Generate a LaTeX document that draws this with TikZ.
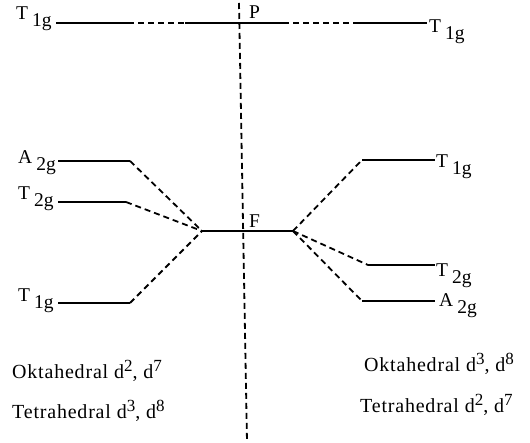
\documentclass[tikz,border=0pt]{standalone}
\usepackage{fontspec}
\setmainfont{Liberation Serif}
\newfontfamily\spacedfont[LetterSpace=4]{Liberation Serif}
\newcommand\lvlname[2]{#1\kern4pt\raisebox{-7pt}{#2}}
\newcommand\supnum[1]{\raisebox{7pt}{\fontsize{17}{17}\selectfont #1}}
\begin{document}
\begin{tikzpicture}[x=1pt,y=-1pt,
  level/.style={line width=2pt},
  conn/.style={line width=1.8pt, dash pattern=on 6pt off 4pt},
  lab/.style={font=\fontsize{19.5}{21}\selectfont, inner sep=0pt, anchor=base west},
  bottomtext/.style={font=\spacedfont\fontsize{20}{22}\selectfont, inner sep=0pt, anchor=base west}]
\useasboundingbox (0,0) rectangle (530,443);
% top P level
\coordinate (tl1) at (56,23);
\coordinate (tl2) at (128,23);
\coordinate (tl3) at (185,23);
\coordinate (tr1) at (283,23);
\coordinate (tr2) at (353,23);
\coordinate (tr3) at (427,23);
\draw[level] (tl1) -- (tl2);
\draw[conn] (tl2) -- (tl3);
\draw[level] (tl3) -- (tr1);
\draw[conn] (tr1) -- (tr2);
\draw[level] (tr2) -- (tr3);
% vertical divider
\coordinate (vtop) at (239,3);
\coordinate (vbot) at (247,442);
\draw[conn] (vtop) -- (vbot);
% F level
\coordinate (fl) at (202,231);
\coordinate (fr) at (293,231);
\draw[level] (fl) -- (fr);
% left levels
\coordinate (la1) at (58,161); \coordinate (la2) at (130,161);
\coordinate (lt21) at (58,202); \coordinate (lt22) at (126,202);
\coordinate (lt11) at (58,303); \coordinate (lt12) at (130,303);
\draw[level] (la1) -- (la2);
\draw[level] (lt21) -- (lt22);
\draw[level] (lt11) -- (lt12);
\draw[conn] (la2) -- (fl);
\draw[conn] (lt22) -- (fl);
\draw[conn] (lt12) -- (fl);
% right levels
\coordinate (rt11) at (362,160); \coordinate (rt12) at (435,160);
\coordinate (rt21) at (368,265); \coordinate (rt22) at (435,265);
\coordinate (ra1) at (362,301); \coordinate (ra2) at (435,301);
\draw[level] (rt11) -- (rt12);
\draw[level] (rt21) -- (rt22);
\draw[level] (ra1) -- (ra2);
\draw[conn] (fr) -- (rt11);
\draw[conn] (fr) -- (rt21);
\draw[conn] (fr) -- (ra1);
% labels
\node[lab] (ltop) at (16,20) {\lvlname{T}{1g}};
\node[lab] (rtop) at (429,33) {\lvlname{T}{1g}};
\node[lab] (lA) at (18,164) {\lvlname{A}{2g}};
\node[lab] (lT2) at (18,200) {\lvlname{T}{2g}};
\node[lab] (lT1) at (18,302) {\lvlname{T}{1g}};
\node[lab] (rT1) at (436,168) {\lvlname{T}{1g}};
\node[lab] (rT2) at (436,277) {\lvlname{T}{2g}};
\node[lab] (rA) at (439,307) {\lvlname{A}{2g}};
\node[lab] (P) at (249,19) {P};
\node[lab] (F) at (249,228) {F};
% bottom text
\node[bottomtext] (lo) at (12,378) {Oktahedral d\supnum{2}, d\supnum{7}};
\node[bottomtext] (lt) at (12,418) {Tetrahedral d\supnum{3}, d\supnum{8}};
\node[bottomtext] (ro) at (364,372) {Oktahedral d\supnum{3}, d\supnum{8}};
\node[bottomtext] (rt) at (360,412) {Tetrahedral d\supnum{2}, d\supnum{7}};
\end{tikzpicture}
\end{document}
